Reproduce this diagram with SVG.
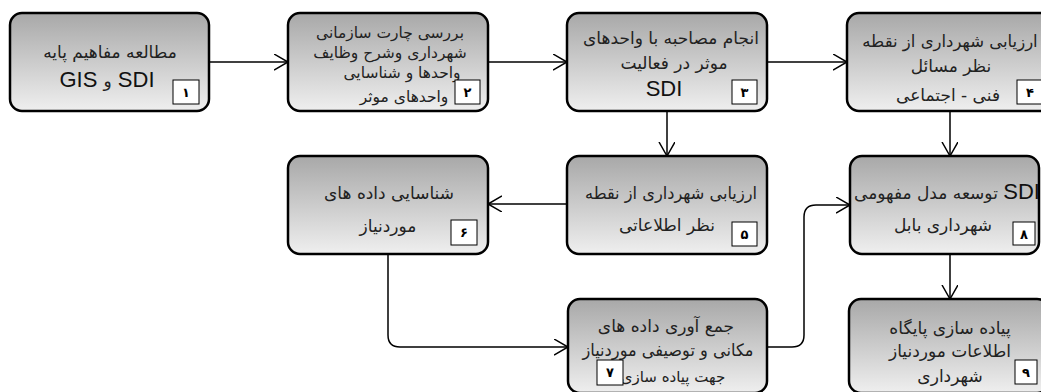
<svg xmlns="http://www.w3.org/2000/svg" width="1041" height="392" viewBox="0 0 1041 392">
<style>
.box{stroke:#000;stroke-width:2.5;fill:url(#g)}
.num{fill:#fff;stroke:#000;stroke-width:1}
.t{font-family:"DejaVu Sans","Noto Sans",sans-serif;font-size:17px;fill:#222;text-anchor:middle}
.s{font-size:15.5px}
.n{font-family:"DejaVu Sans","Noto Sans",sans-serif;font-size:13px;font-weight:bold;fill:#000;text-anchor:middle}
.l{font-family:"Liberation Sans",Arial,sans-serif;font-size:22px;fill:#111}
.c{fill:none;stroke:#000;stroke-width:1.5}
</style>
<defs>
<linearGradient id="g" x1="0" y1="0" x2="0" y2="1">
<stop offset="0" stop-color="#a8a8a8"/>
<stop offset="1" stop-color="#efefef"/>
</linearGradient>
<marker id="a" markerUnits="userSpaceOnUse" markerWidth="16" markerHeight="18" refX="14" refY="8" orient="auto">
<path d="M0,0 L14,8 L0,16" fill="none" stroke="#000" stroke-width="1.5"/>
</marker>
</defs>
<rect width="1041" height="392" fill="#fff"/>
<g id="connectors">
<path class="c" marker-end="url(#a)" d="M209,62 H288"/>
<path class="c" marker-end="url(#a)" d="M488,62 H567"/>
<path class="c" marker-end="url(#a)" d="M767,62 H847"/>
<path class="c" marker-end="url(#a)" d="M667,111 V156"/>
<path class="c" marker-end="url(#a)" d="M950,111 V156"/>
<path class="c" marker-end="url(#a)" d="M567,204 H488"/>
<path class="c" marker-end="url(#a)" d="M388,254 V335 Q388,347 400,347 H568"/>
<path class="c" marker-end="url(#a)" d="M767,347 H792 Q804,347 804,335 V217 Q804,205 816,205 H850"/>
<path class="c" marker-end="url(#a)" d="M950,254 V299"/>
</g>
<g id="n1">
<rect class="box" x="10" y="13" width="199" height="98" rx="12"/>
<text class="t" x="110" y="58">مطالعه مفاهیم پایه</text>
<text class="l" x="107" y="87" text-anchor="middle">GIS <tspan class="t" style="font-size:17px">و</tspan> SDI</text>
<rect class="num" x="173" y="80" width="26" height="24"/>
<text class="n" x="186" y="97">۱</text>
</g>
<g id="n2">
<rect class="box" x="288" y="13" width="200" height="98" rx="12"/>
<text class="t s" x="390" y="38">بررسی چارت سازمانی</text>
<text class="t s" x="390" y="58">شهرداری وشرح وظایف</text>
<text class="t s" x="402" y="78">واحدها و شناسایی</text>
<text class="t s" x="404" y="102">واحدهای موثر</text>
<rect class="num" x="455" y="80" width="25" height="24"/>
<text class="n" x="467.5" y="97">۲</text>
</g>
<g id="n3">
<rect class="box" x="567" y="13" width="200" height="98" rx="12"/>
<text class="t" x="671" y="44">انجام مصاحبه با واحدهای</text>
<text class="t" x="674" y="69">موثر در فعالیت</text>
<text class="l" x="664" y="96" text-anchor="middle">SDI</text>
<rect class="num" x="732" y="80" width="25" height="24"/>
<text class="n" x="744.5" y="97">۳</text>
</g>
<g id="n4">
<rect class="box" x="847" y="13" width="206" height="98" rx="12"/>
<text class="t" x="950" y="47" style="font-size:16.5px">ارزیابی شهرداری از نقطه</text>
<text class="t" x="951" y="72">نظر مسائل</text>
<text class="t" x="948" y="101">فنی - اجتماعی</text>
<rect class="num" x="1017" y="80" width="26" height="24"/>
<text class="n" x="1030" y="97">۴</text>
</g>
<g id="n5">
<rect class="box" x="567" y="156" width="200" height="98" rx="12"/>
<text class="t" x="671" y="199" textLength="172" lengthAdjust="spacingAndGlyphs">ارزیابی شهرداری از نقطه</text>
<text class="t" x="667" y="231">نظر اطلاعاتی</text>
<rect class="num" x="732" y="222" width="25" height="24"/>
<text class="n" x="744.5" y="239">۵</text>
</g>
<g id="n6">
<rect class="box" x="288" y="156" width="200" height="98" rx="12"/>
<text class="t" x="389" y="199">شناسایی داده های</text>
<text class="t" x="388" y="232">موردنیاز</text>
<rect class="num" x="451" y="220" width="26" height="25"/>
<text class="n" x="464" y="237">۶</text>
</g>
<g id="n7">
<rect class="box" x="568" y="299" width="199" height="94" rx="12"/>
<text class="t" x="666" y="332">جمع آوری داده های</text>
<text class="t" x="668" y="356" textLength="171" lengthAdjust="spacingAndGlyphs">مکانی و توصیفی موردنیاز</text>
<text class="t" x="673" y="382" style="font-size:15px">جهت پیاده سازی</text>
<rect class="num" x="597" y="360" width="26" height="25"/>
<text class="n" x="610" y="377">۷</text>
</g>
<g id="n8">
<rect class="box" x="850" y="156" width="189" height="98" rx="12"/>
<text class="t" x="947" y="199">توسعه مدل مفهومی <tspan class="l" style="font-size:22px">SDI</tspan></text>
<text class="t" x="943" y="231">شهرداری بابل</text>
<rect class="num" x="1013" y="222" width="22" height="23"/>
<text class="n" x="1024" y="239">۸</text>
</g>
<g id="n9">
<rect class="box" x="849" y="299" width="200" height="94" rx="12"/>
<text class="t" x="950" y="334">پیاده سازی پایگاه</text>
<text class="t" x="950" y="357">اطلاعات موردنیاز</text>
<text class="t" x="950" y="382">شهرداری</text>
<rect class="num" x="1015" y="360" width="22" height="24"/>
<text class="n" x="1026" y="377">۹</text>
</g>
</svg>
